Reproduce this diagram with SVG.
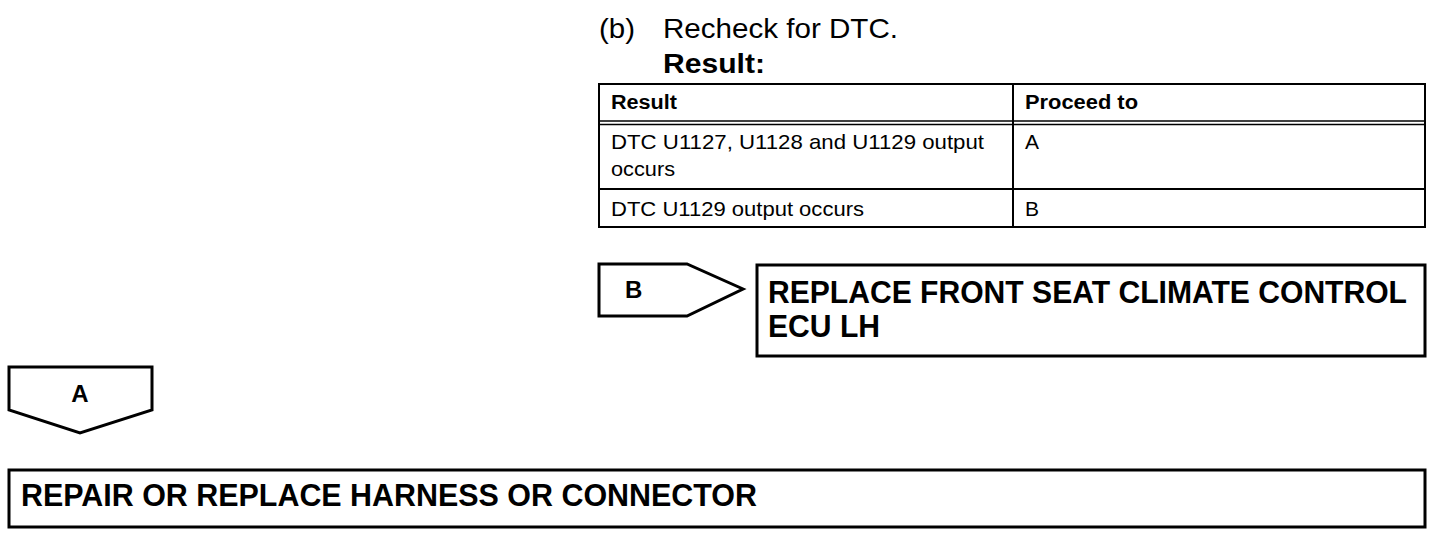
<svg xmlns="http://www.w3.org/2000/svg" width="1456" height="540" viewBox="0 0 1456 540">
<style>
text{font-family:"Liberation Sans",Arial,sans-serif;fill:#000}
.t{font-size:21px}
.th{font-size:20px;font-weight:bold}
.bx{font-size:31px;font-weight:bold}
.tab{font-size:24px;font-weight:bold}
.sh{fill:#fff;stroke:#000;stroke-width:3}
.tl{stroke:#000;stroke-width:2;fill:none}
</style>
<rect width="1456" height="540" fill="#fff"/>
<g id="header">
<text x="599" y="38" style="font-size:27px" textLength="36" lengthAdjust="spacingAndGlyphs">(b)</text>
<text x="663" y="38" style="font-size:28px" textLength="235" lengthAdjust="spacingAndGlyphs">Recheck for DTC.</text>
<text x="663" y="73" style="font-size:27px;font-weight:bold" textLength="102" lengthAdjust="spacingAndGlyphs">Result:</text>
</g>
<g id="table">
<rect x="599" y="84" width="826" height="143" class="tl"/>
<line x1="599" y1="121" x2="1425" y2="121" class="tl" style="stroke-width:1.5"/>
<line x1="599" y1="124.5" x2="1425" y2="124.5" class="tl" style="stroke-width:1.5"/>
<line x1="599" y1="189" x2="1425" y2="189" class="tl"/>
<line x1="1013" y1="84" x2="1013" y2="227" class="tl"/>
<text x="611" y="109" class="th" textLength="66" lengthAdjust="spacingAndGlyphs">Result</text>
<text x="1025" y="109" class="th" textLength="113" lengthAdjust="spacingAndGlyphs">Proceed to</text>
<text x="611" y="149" class="t" textLength="373" lengthAdjust="spacingAndGlyphs">DTC U1127, U1128 and U1129 output</text>
<text x="611" y="176" class="t" textLength="64" lengthAdjust="spacingAndGlyphs">occurs</text>
<text x="1025" y="149" class="t">A</text>
<text x="611" y="216" class="t" textLength="253" lengthAdjust="spacingAndGlyphs">DTC U1129 output occurs</text>
<text x="1025" y="216" class="t">B</text>
</g>
<g id="tabB">
<path d="M599,264 L687,264 L743,289 L687,316 L599,316 Z" class="sh"/>
<text x="625" y="298" class="tab">B</text>
</g>
<g id="boxB">
<rect x="757" y="265" width="668" height="91" class="sh"/>
<text x="768" y="303" class="bx" textLength="639" lengthAdjust="spacingAndGlyphs">REPLACE FRONT SEAT CLIMATE CONTROL</text>
<text x="768" y="337" class="bx" textLength="112" lengthAdjust="spacingAndGlyphs">ECU LH</text>
</g>
<g id="tabA">
<path d="M9,367 L152,367 L152,410 L80,433 L9,410 Z" class="sh"/>
<text x="80" y="402" class="tab" text-anchor="middle">A</text>
</g>
<g id="boxA">
<rect x="9" y="470" width="1416" height="57" class="sh"/>
<text x="21" y="506" class="bx" textLength="736" lengthAdjust="spacingAndGlyphs">REPAIR OR REPLACE HARNESS OR CONNECTOR</text>
</g>
<g id="connectors"></g>
</svg>
